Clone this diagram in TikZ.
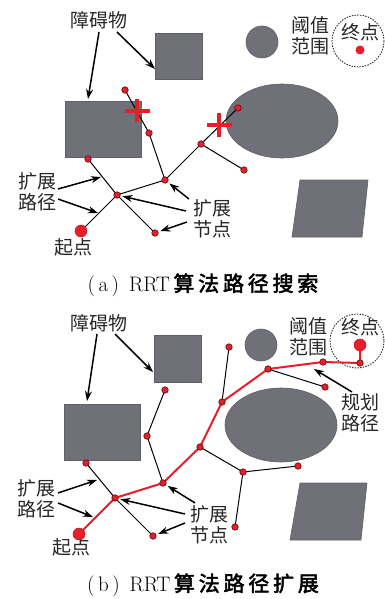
\documentclass[tikz,border=0pt]{standalone}
\usepackage{fontspec}
\usetikzlibrary{arrows.meta}
\newfontfamily\cjk{Noto Sans CJK SC}
\newfontfamily\cjkb[FakeBold=2.5,LetterSpace=18]{Noto Sans CJK SC}
\pgfdeclarelayer{edgelayer}
\pgfdeclarelayer{dotlayer}
\pgfsetlayers{main,edgelayer,dotlayer}
\definecolor{obs}{RGB}{112,113,120}
\definecolor{obsb}{RGB}{95,96,102}
\definecolor{rrtred}{RGB}{232,30,40}
\definecolor{dotb}{RGB}{90,10,15}
\tikzset{
  obstacle/.style={fill=obs,draw=obsb,line width=0.6pt},
  dotnode/.style={circle,fill=rrtred,draw=dotb,line width=0.6pt,inner sep=0pt,minimum size=6.5pt},
  bigdot/.style={circle,fill=rrtred,draw=rrtred!80!black,line width=0.5pt,inner sep=0pt,minimum size=12pt},
  edge/.style={black,line width=1pt},
  redpath/.style={rrtred,line width=2pt},
  arr/.style={black,line width=1.5pt,-{Stealth[length=10pt,width=7pt]}},
  lbl/.style={font=\cjk\fontsize{19}{20.5}\selectfont,align=center,inner sep=0pt,text=black!85},
  captxt/.style={font=\fontsize{21}{22}\selectfont,inner sep=0pt},
  crossmark/.style={rrtred,line width=3.5pt},
  thresh/.style={black!80,dashed,dash pattern=on 1.5pt off 1.2pt,line width=0.9pt}
}
\begin{document}
\begin{tikzpicture}[x=1pt,y=-1pt]
\useasboundingbox (0,0) rectangle (385,599);

%%%%%%%%%%%%%%%% panel (a)
\draw[obstacle] (155,33) rectangle (202,79);
\draw[obstacle] (65,101) rectangle (141,157);
\draw[obstacle] (262,42) circle[radius=16];
\draw[obstacle] (282,121) ellipse[x radius=56,y radius=37];
\draw[obstacle] (300,180) -- (368,180) -- (362,237) -- (292,237) -- cycle;
\draw[thresh] (358,41) circle[radius=26];

\node[lbl] (obsA) at (99,20) {障碍物};
\node[lbl] (thrA) at (310,36) {阈值\\范围};
\node[lbl] (endA) at (360,32) {终点};
\node[circle,fill=rrtred,inner sep=0pt,minimum size=9pt] (goalA) at (360,50) {};

\begin{pgfonlayer}{dotlayer}
\node[dotnode] (a1) at (125,90) {};
\node[dotnode] (a2) at (149,133) {};
\node[dotnode] (a3) at (165,180) {};
\node[dotnode] (a4) at (201,144) {};
\node[dotnode] (a5) at (238,108) {};
\node[dotnode] (a6) at (244,170) {};
\node[dotnode] (a7) at (117,195) {};
\node[dotnode] (a8) at (88,159) {};
\node[dotnode] (a9) at (155,233) {};
\node[bigdot] (sA) at (81,231) {};
\coordinate (xA1) at (137,111);
\coordinate (xA2) at (219,125);
\draw[crossmark] ([xshift=-12pt]xA1) -- ([xshift=13pt]xA1) ([yshift=-11pt]xA1) -- ([yshift=12pt]xA1);
\draw[crossmark] ([xshift=-12pt]xA2) -- ([xshift=13pt]xA2) ([yshift=-12pt]xA2) -- ([yshift=12pt]xA2);
\end{pgfonlayer}
\begin{pgfonlayer}{edgelayer}
\draw[edge] (sA.center) -- (a7.center);
\draw[edge] (a8.center) -- (a7.center) -- (a9.center);
\draw[edge] (a7.center) -- (a3.center) -- (a2.center) -- (a1.center);
\draw[edge] (a3.center) -- (a4.center) -- (a5.center);
\draw[edge] (a4.center) -- (a6.center);
\end{pgfonlayer}

\node[lbl] (pathA) at (37,192) {扩展\\路径};
\node[lbl] (startA) at (73,247) {起点};
\node[lbl] (expA) at (212,219) {扩展\\节点};

\coordinate (tA1) at (99,32);  \coordinate (hA1) at (88,99);
\coordinate (tA2) at (117,32); \coordinate (hA2) at (155,69);
\draw[arr] (tA1) -- (hA1);
\draw[arr] (tA2) -- (hA2);
\coordinate (tA3) at (58,189); \coordinate (hA3) at (101,177);
\coordinate (tA4) at (58,199); \coordinate (hA4) at (98,213);
\draw[arr] (tA3) -- (hA3);
\draw[arr] (tA4) -- (hA4);
\coordinate (tA5) at (189,199);
\coordinate (tA6) at (186,211);
\coordinate (tA7) at (187,222);
\draw[arr,shorten >=2pt] (tA5) -- (a3);
\draw[arr,shorten >=2pt] (tA6) -- (a7);
\draw[arr,shorten >=2pt] (tA7) -- (a9);

\node[captxt] (capA) at (203,285) {(\,a\,)\ \,RRT\,{\cjkb 算法路径搜索}};

%%%%%%%%%%%%%%%% panel (b)
\draw[obstacle] (154,335) rectangle (201,382);
\draw[obstacle] (64,404) rectangle (140,460);
\draw[obstacle] (261,345) circle[radius=16];
\draw[obstacle] (281,425) ellipse[x radius=56,y radius=37];
\draw[obstacle] (300,483) -- (367,483) -- (361,540) -- (290,540) -- cycle;
\draw[thresh] (357,341) circle[radius=27];

\node[lbl] (obsB) at (99,323) {障碍物};
\node[lbl] (thrB) at (308,337) {阈值\\范围};
\node[lbl] (endB) at (360,327) {终点};
\node[lbl] (planB) at (360,413) {规划\\路径};

\begin{pgfonlayer}{dotlayer}
\node[dotnode] (b1) at (229,347) {};
\node[dotnode] (b2) at (222,402) {};
\node[dotnode] (b3) at (165,390) {};
\node[dotnode] (b4) at (147,436) {};
\node[dotnode] (b5) at (200,447) {};
\node[dotnode] (b6) at (163,483) {};
\node[dotnode] (b7) at (115,498) {};
\node[dotnode] (b8) at (86,463) {};
\node[dotnode] (b9) at (153,536) {};
\node[dotnode] (b10) at (235,527) {};
\node[dotnode] (b11) at (243,472) {};
\node[dotnode] (b12) at (298,466) {};
\node[dotnode] (b13) at (268,369) {};
\node[dotnode] (b14) at (323,362) {};
\node[dotnode] (b15) at (360,363) {};
\node[dotnode] (b16) at (325,387) {};
\node[bigdot] (sB) at (79,534) {};
\node[bigdot] (gB) at (360,345) {};
\end{pgfonlayer}
\begin{pgfonlayer}{edgelayer}
\draw[edge] (b1.center) -- (b2.center);
\draw[edge] (b3.center) -- (b4.center) -- (b6.center);
\draw[edge] (b8.center) -- (b7.center) -- (b9.center);
\draw[edge] (b5.center) -- (b11.center) -- (b12.center);
\draw[edge] (b11.center) -- (b10.center);
\draw[edge] (b13.center) -- (b16.center);
\draw[redpath,line join=round] (sB.center) -- (b7.center) -- (b6.center) -- (b5.center) -- (b2.center) -- (b13.center) -- (b14.center) -- (b15.center) -- (gB.center);
\end{pgfonlayer}

\node[lbl] (pathB) at (36,499) {扩展\\路径};
\node[lbl] (startB) at (71,547) {起点};
\node[lbl] (expB) at (209,525) {扩展\\节点};

\coordinate (tB1) at (97,334);  \coordinate (hB1) at (87,401);
\coordinate (tB2) at (115,334); \coordinate (hB2) at (153,372);
\draw[arr] (tB1) -- (hB1);
\draw[arr] (tB2) -- (hB2);
\coordinate (tB3) at (352,392); \coordinate (hB3) at (314,369);
\draw[arr] (tB3) -- (hB3);
\coordinate (tB4) at (58,493); \coordinate (hB4) at (97,480);
\coordinate (tB5) at (58,503); \coordinate (hB5) at (93,517);
\draw[arr] (tB4) -- (hB4);
\draw[arr] (tB5) -- (hB5);
\coordinate (tB6) at (195,503);
\coordinate (tB7) at (185,514);
\coordinate (tB8) at (185,523);
\draw[arr,shorten >=2pt] (tB6) -- (b6);
\draw[arr,shorten >=2pt] (tB7) -- (b7);
\draw[arr,shorten >=2pt] (tB8) -- (b9);

\node[captxt] (capB) at (203,585) {(\,b\,)\ \,RRT\,{\cjkb 算法路径扩展}};
\end{tikzpicture}
\end{document}
